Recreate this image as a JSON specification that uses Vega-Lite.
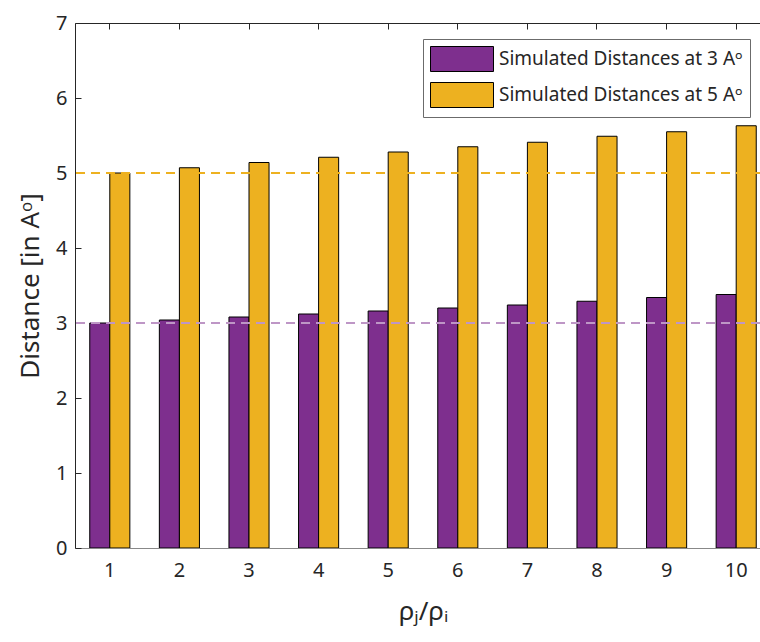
{
  "$schema": "https://vega.github.io/schema/vega-lite/v6.json",
  "width": 685,
  "height": 525,
  "autosize": {"type": "none"},
  "padding": {"left": 75, "top": 23, "right": 0, "bottom": 94},
  "background": "white",
  "config": {
    "font": "Noto Sans",
    "view": {"stroke": null},
    "axis": {"labelColor": "#262626", "titleColor": "#262626", "domainColor": "#262626", "tickColor": "#262626", "labelFont": "Noto Sans", "titleFont": "Noto Sans", "grid": false}
  },
  "data": {"values": [
    {"ratio": 1, "series": "Simulated Distances at 3 Aᵒ", "value": 3.00},
    {"ratio": 2, "series": "Simulated Distances at 3 Aᵒ", "value": 3.04},
    {"ratio": 3, "series": "Simulated Distances at 3 Aᵒ", "value": 3.08},
    {"ratio": 4, "series": "Simulated Distances at 3 Aᵒ", "value": 3.12},
    {"ratio": 5, "series": "Simulated Distances at 3 Aᵒ", "value": 3.16},
    {"ratio": 6, "series": "Simulated Distances at 3 Aᵒ", "value": 3.20},
    {"ratio": 7, "series": "Simulated Distances at 3 Aᵒ", "value": 3.24},
    {"ratio": 8, "series": "Simulated Distances at 3 Aᵒ", "value": 3.29},
    {"ratio": 9, "series": "Simulated Distances at 3 Aᵒ", "value": 3.34},
    {"ratio": 10, "series": "Simulated Distances at 3 Aᵒ", "value": 3.38},
    {"ratio": 1, "series": "Simulated Distances at 5 Aᵒ", "value": 5.00},
    {"ratio": 2, "series": "Simulated Distances at 5 Aᵒ", "value": 5.07},
    {"ratio": 3, "series": "Simulated Distances at 5 Aᵒ", "value": 5.14},
    {"ratio": 4, "series": "Simulated Distances at 5 Aᵒ", "value": 5.21},
    {"ratio": 5, "series": "Simulated Distances at 5 Aᵒ", "value": 5.28},
    {"ratio": 6, "series": "Simulated Distances at 5 Aᵒ", "value": 5.35},
    {"ratio": 7, "series": "Simulated Distances at 5 Aᵒ", "value": 5.41},
    {"ratio": 8, "series": "Simulated Distances at 5 Aᵒ", "value": 5.49},
    {"ratio": 9, "series": "Simulated Distances at 5 Aᵒ", "value": 5.55},
    {"ratio": 10, "series": "Simulated Distances at 5 Aᵒ", "value": 5.63}
  ]},
  "layer": [
    {
      "mark": {"type": "bar", "stroke": "black", "strokeWidth": 1, "clip": true},
      "encoding": {
        "x": {"field": "ratio", "type": "ordinal",
          "scale": {"range": [0, 696], "paddingInner": 0.424, "paddingOuter": 0.212},
          "axis": {"orient": "bottom", "labelAngle": 0, "labelFontSize": 20, "labelPadding": 12, "ticks": false, "domainColor": "#888888", "title": "ρⱼ/ρᵢ", "titleFontSize": 26, "titleFontWeight": "normal", "titlePadding": 18}},
        "xOffset": {"field": "series", "type": "nominal", "scale": {"paddingInner": 0, "paddingOuter": 0}},
        "y": {"field": "value", "type": "quantitative",
          "scale": {"domain": [0, 7], "nice": false},
          "axis": {"values": [0,1,2,3,4,5,6,7], "format": "d", "labelFontSize": 20, "tickSize": -6, "labelPadding": 14, "title": "Distance [in Aᵒ]", "titleFontSize": 26, "titleFontWeight": "normal", "titlePadding": 12}},
        "color": {"field": "series", "type": "nominal",
          "scale": {"domain": ["Simulated Distances at 3 Aᵒ", "Simulated Distances at 5 Aᵒ"], "range": ["#7E2F8E", "#EDB120"]},
          "legend": {"title": null, "orient": "none", "legendX": 348, "legendY": 16, "fillColor": "white", "strokeColor": "#6b6b6b", "padding": 7, "symbolType": "M-1,-1H4.04V1H-1Z", "symbolSize": 625, "symbolStrokeColor": "black", "symbolStrokeWidth": 1, "symbolOpacity": 1, "labelFontSize": 19, "labelColor": "#262626", "labelFont": "Noto Sans", "labelOffset": 43, "labelLimit": 0, "rowPadding": 6}}
      }
    },
    {
      "mark": {"type": "rule", "color": "#BE97C6", "strokeWidth": 1.5, "strokeDash": [9, 6]},
      "encoding": {"y": {"datum": 3}}
    },
    {
      "mark": {"type": "rule", "color": "#EDB120", "strokeWidth": 1.5, "strokeDash": [9, 6]},
      "encoding": {"y": {"datum": 5}}
    },
    {
      "mark": {"type": "point", "opacity": 0},
      "encoding": {
        "x": {"field": "ratio", "type": "ordinal", "axis": {"orient": "top", "labels": false, "title": null, "tickSize": -6, "domainColor": "#262626"}}
      }
    }
  ]
}
